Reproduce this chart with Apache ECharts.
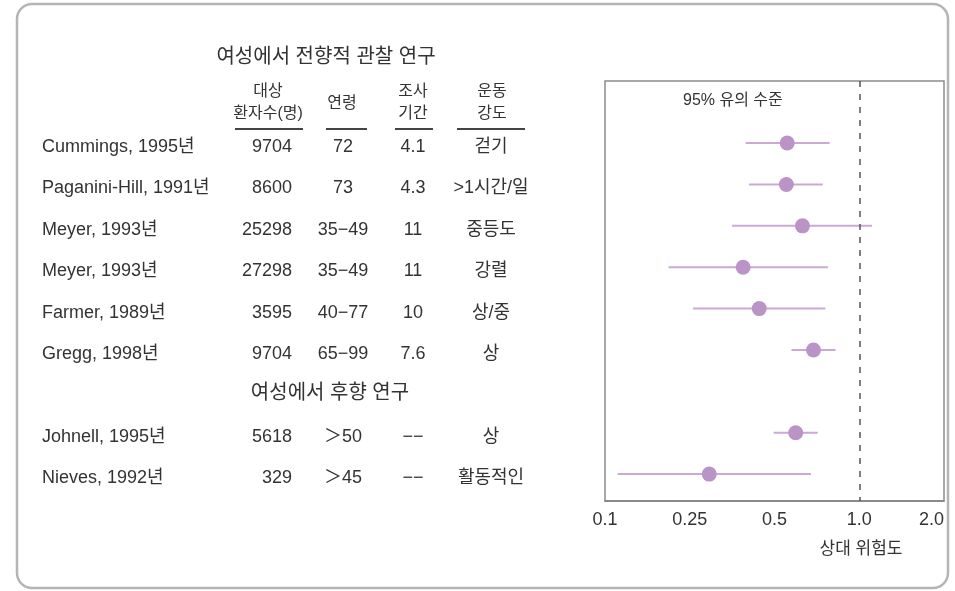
<!DOCTYPE html>
<html>
<head>
<meta charset="utf-8">
<script src="https://cdn.jsdelivr.net/npm/echarts@6/dist/echarts.min.js"></script>
<style>
  html, body { margin: 0; padding: 0; background: #fff; }
  #chart { width: 955px; height: 591px; }
</style>
</head>
<body>
<div id="chart"></div>
<script>
// 표의 각 행 ('' 는 후향 연구 구분 행)
const studies = ['Cummings, 1995년', 'Paganini-Hill, 1991년', 'Meyer, 1993년', 'Meyer, 1993년', 'Farmer, 1989년', 'Gregg, 1998년', '', 'Johnell, 1995년', 'Nieves, 1992년']
const patients = ['9704', '8600', '25298', '27298', '3595', '9704', '', '5618', '329']
const ages = ['72', '73', '35−49', '35−49', '40−77', '65−99', '', '＞50', '＞45']
const periods = ['4.1', '4.3', '11', '11', '10', '7.6', '', '−−', '−−']
const intensity = ['걷기', '>1시간/일', '중등도', '강렬', '상/중', '상', '', '상', '활동적인']

// 상대 위험도 (x축 눈금 단위: 0=0.1, 1=0.25, 2=0.5, 3=1.0, 4=2.0)
const riskEst = [2.15, 2.14, 2.33, 1.63, 1.82, 2.46, null, 2.25, 1.23]
const riskLow = [1.66, 1.70, 1.50, 0.75, 1.04, 2.20, null, 1.99, 0.15]
const riskHigh = [2.65, 2.57, 3.15, 2.63, 2.60, 2.72, null, 2.51, 2.43]
const tickLabels = ['0.1', '0.25', '0.5', '1.0', '2.0']

const FONT = '"Liberation Sans", "Noto Sans CJK KR", sans-serif'
const TEXT = '#333'

const chart = echarts.init(document.getElementById('chart'))

// 행 번호 (0번 행은 '95% 유의 수준' 자리)
const rowIdx = []
studies.forEach((s, i) => { if (s) rowIdx.push(i + 1) })

const dots = []
const bars = []
riskEst.forEach((v, i) => {
  if (v == null) return
  dots.push([v, i + 1])
  bars.push([riskLow[i], riskHigh[i], i + 1])
})

const columnAxis = (arr, offset, align) => ({
  type: 'value',
  inverse: true,
  min: -0.5,
  max: 9.65,
  position: 'left',
  offset: offset,
  axisLine: { show: false },
  axisTick: { show: false },
  splitLine: { show: false },
  axisLabel: {
    customValues: rowIdx,
    formatter: (v) => arr[v - 1] ? '{t|' + arr[v - 1] + '}' : '',
    align: align,
    margin: 0,
    rich: {
      t: {
        fontSize: 18,
        color: TEXT,
        fontFamily: FONT,
        padding: [8, 0, 0, 0]
      }
    }
  }
})

const txt = (text, x, y, size, align, extra) => ({
  type: 'text',
  x: x,
  y: y,
  style: Object.assign({
    text: text,
    fontSize: size,
    fontFamily: FONT,
    fill: TEXT,
    textAlign: align || 'center',
    textVerticalAlign: 'middle'
  }, extra || {})
})

const uline = (x1, x2) => ({
  type: 'line',
  shape: { x1: x1, y1: 129, x2: x2, y2: 129 },
  style: { stroke: '#444', lineWidth: 2 }
})

const option = {
  animation: false,
  backgroundColor: '#fff',
  grid: {
    left: 605,
    right: 11,
    top: 81,
    bottom: 90,
    containLabel: false,
    outerBoundsMode: 'none',
    show: true,
    borderColor: '#8c8c8c',
    borderWidth: 1.5
  },
  xAxis: {
    type: 'value',
    min: 0,
    max: 4,
    interval: 1,
    axisLine: { show: true, onZero: false, lineStyle: { color: '#808080', width: 1.5 } },
    axisTick: { show: false },
    splitLine: { show: false },
    axisLabel: {
      formatter: (v) => tickLabels[v] || '',
      fontSize: 18,
      color: TEXT,
      fontFamily: FONT,
      margin: 10,
      alignMaxLabel: 'right'
    }
  },
  yAxis: [
    {
      type: 'value',
      inverse: true,
      min: -0.5,
      max: 9.65,
      axisLine: { show: false },
      axisTick: { show: false },
      splitLine: { show: false },
      axisLabel: { show: false }
    },
    columnAxis(studies, 563, 'left'),
    columnAxis(patients, 313, 'right'),
    columnAxis(ages, 262, 'center'),
    columnAxis(periods, 192, 'center'),
    columnAxis(intensity, 114, 'center')
  ],
  series: [
    {
      type: 'custom',
      yAxisIndex: 0,
      encode: { x: [0, 1], y: 2 },
      data: bars,
      renderItem: (params, api) => {
        const a = api.coord([api.value(0), api.value(2)])
        const b = api.coord([api.value(1), api.value(2)])
        return {
          type: 'line',
          shape: { x1: a[0], y1: a[1], x2: b[0], y2: b[1] },
          style: { stroke: '#caa9d3', lineWidth: 2 }
        }
      }
    },
    {
      type: 'scatter',
      yAxisIndex: 0,
      data: dots,
      symbolSize: 15,
      itemStyle: { color: '#bb94c7', opacity: 1 },
      markLine: {
        silent: true,
        symbol: 'none',
        label: { show: false },
        lineStyle: { color: '#555', width: 1.5, type: [6, 7] },
        data: [{ xAxis: 3 }]
      }
    }
  ],
  graphic: [
    {
      type: 'rect',
      shape: { x: 17, y: 4, width: 931, height: 584, r: 15 },
      style: { fill: 'none', stroke: '#b5b5b5', lineWidth: 2.5 }
    },
    txt('여성에서 전향적 관찰 연구', 326, 57, 20),
    txt('대상\n환자수(명)', 268, 103, 16, 'center', { lineHeight: 22 }),
    txt('연령', 342, 104, 16),
    txt('조사\n기간', 413, 103, 16, 'center', { lineHeight: 22 }),
    txt('운동\n강도', 492, 103, 16, 'center', { lineHeight: 22 }),
    uline(235, 303),
    uline(326, 367),
    uline(395, 433),
    uline(457, 525),
    txt('여성에서 후향 연구', 330, 393, 20),
    txt('95% 유의 수준', 683, 101, 16, 'left'),
    txt('상대 위험도', 861, 549, 17)
  ]
}

chart.setOption(option)
</script>
</body>
</html>
